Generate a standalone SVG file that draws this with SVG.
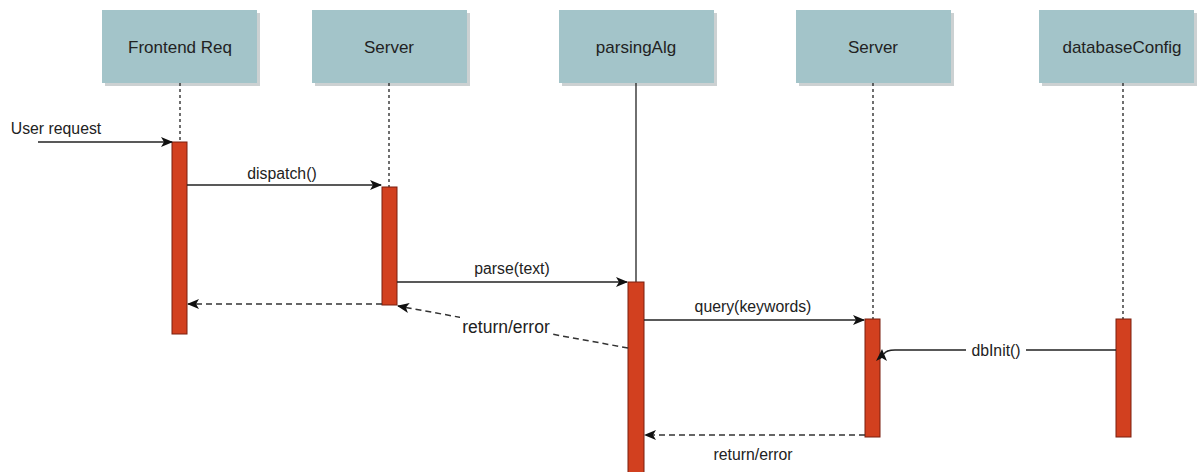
<svg xmlns="http://www.w3.org/2000/svg" width="1197" height="472" viewBox="0 0 1197 472">
  <style>
    .head { fill: #a3c4c9; }
    .shadow { fill: #8f9a9c; opacity: 0.45; }
    .title { font-family: "Liberation Sans", Arial, sans-serif; font-size: 17px; fill: #222; text-anchor: middle; }
    .lbl { font-family: "Liberation Sans", Arial, sans-serif; font-size: 15.8px; fill: #222; text-anchor: middle; }
    .life { stroke: #222; stroke-width: 1.3; fill: none; stroke-dasharray: 3 3; }
    .act { fill: #d2401f; stroke: #7a1f0e; stroke-width: 1; }
    .msg { stroke: #222; stroke-width: 1.5; fill: none; marker-end: url(#arrow); }
    .ret { stroke: #333; stroke-width: 1.5; fill: none; stroke-dasharray: 6 4; marker-end: url(#arrow); }
  </style>
  <defs>
    <marker id="arrow" markerWidth="12" markerHeight="10" refX="11" refY="5" orient="auto" markerUnits="userSpaceOnUse">
      <path d="M0,0 L12,5 L0,10 L3,5 z" fill="#111"/>
    </marker>
  </defs>
  <rect width="1197" height="472" fill="#ffffff"/>

  <g id="frontend-req">
    <rect class="shadow" x="105" y="13" width="155" height="73"/>
    <rect class="head" x="102" y="10" width="155" height="73"/>
    <text class="title" x="180" y="53">Frontend Req</text>
    <line class="life" x1="180" y1="83" x2="180" y2="142"/>
    <rect class="act" x="172" y="142" width="15" height="192"/>
  </g>

  <g id="server-1">
    <rect class="shadow" x="315" y="13" width="155" height="73"/>
    <rect class="head" x="312" y="10" width="155" height="73"/>
    <text class="title" x="389" y="53">Server</text>
    <line class="life" x1="389" y1="83" x2="389" y2="187"/>
    <rect class="act" x="382" y="187" width="15" height="118"/>
  </g>

  <g id="parsing-alg">
    <rect class="shadow" x="562" y="13" width="155" height="73"/>
    <rect class="head" x="559" y="10" width="155" height="73"/>
    <text class="title" x="636" y="53">parsingAlg</text>
    <line x1="636" y1="83" x2="636" y2="282" stroke="#222" stroke-width="1.3"/>
    <rect class="act" x="628" y="282" width="16" height="192"/>
  </g>

  <g id="server-2">
    <rect class="shadow" x="799" y="13" width="155" height="73"/>
    <rect class="head" x="796" y="10" width="155" height="73"/>
    <text class="title" x="873" y="53">Server</text>
    <line class="life" x1="873" y1="83" x2="873" y2="319"/>
    <rect class="act" x="865" y="319" width="15" height="118"/>
  </g>

  <g id="database-config">
    <rect class="shadow" x="1042" y="13" width="155" height="73"/>
    <rect class="head" x="1039" y="10" width="155" height="73"/>
    <text class="title" x="1122" y="53">databaseConfig</text>
    <line class="life" x1="1123" y1="83" x2="1123" y2="319"/>
    <rect class="act" x="1116" y="319" width="15" height="118"/>
  </g>

  <g id="connectors">
    <!-- incoming request -->
    <line class="msg" x1="38" y1="142" x2="172" y2="142"/>
    <text class="lbl" x="56" y="134">User request</text>

    <!-- dispatch -->
    <line class="msg" x1="187" y1="185" x2="381" y2="185"/>
    <text class="lbl" x="282" y="179">dispatch()</text>

    <!-- server reply -->
    <line class="ret" x1="382" y1="304" x2="188" y2="304"/>

    <!-- parse -->
    <line class="msg" x1="397" y1="282" x2="627" y2="282"/>
    <text class="lbl" x="512" y="274">parse(text)</text>

    <!-- parser reply -->
    <line class="ret" x1="628" y1="348" x2="398" y2="306"/>
    <rect x="460" y="315" width="92" height="21" fill="#ffffff"/>
    <text class="lbl" x="506" y="333" style="font-size:17.5px">return/error</text>

    <!-- query -->
    <line class="msg" x1="644" y1="320" x2="864" y2="320"/>
    <text class="lbl" x="753" y="312">query(keywords)</text>

    <!-- dbInit -->
    <path d="M1116,350 H1026 M966,350 H895 Q886,350 884,354" stroke="#222" stroke-width="1.5" fill="none"/>
    <path d="M882,349 L887,361 L882,358 L876,361 z" fill="#111"/>
    <text class="lbl" x="996" y="356">dbInit()</text>

    <!-- query reply -->
    <line class="ret" x1="865" y1="435" x2="645" y2="435"/>
    <text class="lbl" x="753" y="460">return/error</text>
  </g>
</svg>
